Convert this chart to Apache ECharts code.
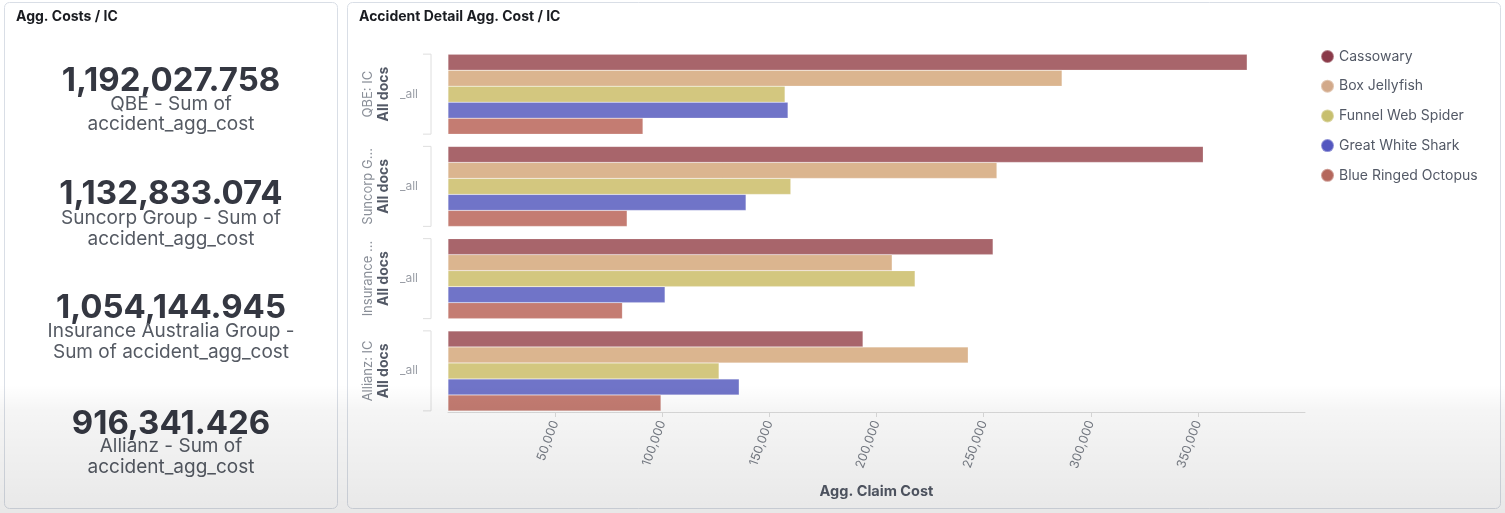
<!DOCTYPE html>
<html>
<head>
<meta charset="utf-8">
<script src="https://cdn.jsdelivr.net/npm/echarts@6/dist/echarts.min.js"></script>
<style>
  html, body { margin: 0; padding: 0; background: #fff; }
  #main { width: 1505px; height: 513px; }
</style>
</head>
<body>
<div id="main"></div>
<script>
// left panel metrics
var metricValues = ['1,192,027.758', '1,132,833.074', '1,054,144.945', '916,341.426'];
var metricLabels = [
	['QBE - Sum of', 'accident_agg_cost'],
	['Suncorp Group - Sum of', 'accident_agg_cost'],
	['Insurance Australia Group -', 'Sum of accident_agg_cost'],
	['Allianz - Sum of', 'accident_agg_cost']
];

// bar chart
var groups = ['QBE: IC', 'Suncorp G...', 'Insurance ...', 'Allianz: IC'];
var animals = ['Cassowary', 'Box Jellyfish', 'Funnel Web Spider', 'Great White Shark', 'Blue Ringed Octopus'];
var cassowary = [373000, 352500, 254400, 193700];
var boxJellyfish = [286600, 256200, 207300, 242800];
var funnelWeb = [157300, 160000, 218000, 126500];
var greatWhite = [158700, 139100, 101300, 135900];
var blueRinged = [91000, 83600, 81400, 99400];
var xTicks = { min: 0, max: 400000, interval: 50000 };

var barColors = ['#a8656b', '#dbb58f', '#d3c77f', '#7074c8', '#c47c72'];
var legendColors = ['#8a3a49', '#d2a98a', '#c7bf6f', '#5356bf', '#b4675c'];
var seriesValues = [cassowary, boxJellyfish, funnelWeb, greatWhite, blueRinged];

var FONT = 'Inter, "Noto Sans", sans-serif';

var graphics = [
	// panels
	{ type: 'rect', shape: { x: 4.5, y: 2.5, width: 333, height: 506, r: 5 }, style: { fill: '#fff', stroke: '#d9dee6', lineWidth: 1 }, z: -10 },
	{ type: 'rect', shape: { x: 347.5, y: 2.5, width: 1153, height: 506, r: 5 }, style: { fill: '#fff', stroke: '#d9dee6', lineWidth: 1 }, z: -10 },
	{ type: 'text', x: 16, y: 17, style: { text: 'Agg. Costs / IC', font: 'bold 14px ' + FONT, fill: '#1a1c21', verticalAlign: 'middle' } },
	{ type: 'text', x: 359, y: 17, style: { text: 'Accident Detail Agg. Cost / IC', font: 'bold 14px ' + FONT, fill: '#1a1c21', verticalAlign: 'middle' } }
];

var numY = [81, 194, 308, 424];
var subY = [[104, 124], [218, 239], [331, 352], [446, 467]];
metricValues.forEach(function (v, i) {
	graphics.push({ type: 'text', x: 171, y: numY[i], style: { text: v, font: 'bold 33px ' + FONT, fill: '#343741', align: 'center', verticalAlign: 'middle' } });
	metricLabels[i].forEach(function (t, j) {
		graphics.push({ type: 'text', x: 171, y: subY[i][j], style: { text: t, font: '19px ' + FONT, fill: '#555a63', align: 'center', verticalAlign: 'middle' } });
	});
});

// grey vignette along the bottom of the screenshot
graphics.push({
	type: 'rect', silent: true, z: 100,
	shape: { x: 0, y: 385, width: 1505, height: 128 },
	style: {
		fill: new echarts.graphic.LinearGradient(0, 0, 0, 1, [
			{ offset: 0, color: 'rgba(0,0,0,0)' },
			{ offset: 0.2, color: 'rgba(0,0,0,0.04)' },
			{ offset: 1, color: 'rgba(0,0,0,0.09)' }
		])
	}
});

var series = animals.map(function (name, i) {
	return {
		name: name,
		type: 'bar',
		barWidth: 16,
		barGap: '0%',
		itemStyle: { color: barColors[i], borderColor: 'rgba(255,255,255,0.35)', borderWidth: 0.5 },
		data: seriesValues[i]
	};
});

// brackets next to each group
series.push({
	type: 'custom',
	silent: true,
	data: groups.map(function (g, i) { return [0, i]; }),
	encode: { x: 0, y: 1 },
	renderItem: function (params, api) {
		var c = api.coord([0, api.value(1)]);
		var x = c[0] - 17;
		return {
			type: 'polyline',
			shape: { points: [[x - 8, c[1] - 40], [x, c[1] - 40], [x, c[1] + 40], [x - 8, c[1] + 40]] },
			style: { stroke: '#dedede', lineWidth: 1, fill: null }
		};
	}
});

var option = {
	animation: false,
	textStyle: { fontFamily: FONT },
	graphic: graphics,
	legend: {
		orient: 'vertical',
		left: 1315,
		top: 44,
		icon: 'circle',
		itemWidth: 13,
		itemHeight: 13,
		itemGap: 14.7,
		textStyle: { fontSize: 14, color: '#535966', fontFamily: FONT },
		data: animals.map(function (a, i) { return { name: a, itemStyle: { color: legendColors[i] } }; })
	},
	grid: { left: 448, right: 200, top: 48, height: 369 },
	xAxis: {
		type: 'value',
		min: xTicks.min,
		max: xTicks.max,
		interval: xTicks.interval,
		offset: -5,
		name: 'Agg. Claim Cost',
		nameLocation: 'middle',
		nameGap: 72,
		nameTextStyle: { fontWeight: 'bold', fontSize: 14.5, color: '#535966' },
		axisLine: { show: true, lineStyle: { color: '#dcdcdc' } },
		axisTick: { show: true, length: 5, lineStyle: { color: '#dcdcdc' } },
		splitLine: { show: false },
		axisLabel: {
			rotate: 70,
			margin: 9,
			fontSize: 12.5,
			color: '#7a7f88',
			showMinLabel: false,
			showMaxLabel: false,
			formatter: function (v) { return v.toLocaleString('en-US'); }
		}
	},
	yAxis: [{
		type: 'category',
		inverse: true,
		data: groups,
		axisLine: { show: false },
		axisTick: { show: false },
		axisLabel: { margin: 30, fontSize: 12, color: '#9a9ea6', formatter: function () { return '_all'; } }
	}, {
		type: 'category',
		inverse: true,
		data: groups,
		position: 'left',
		axisLine: { show: false },
		axisTick: { show: false },
		axisLabel: {
			rotate: 90,
			interval: 0,
			hideOverlap: false,
			margin: 57,
			formatter: function (v) { return '{a|' + v + '}\n{b|All docs}'; },
			rich: {
				a: { fontSize: 13, color: '#8a8f98', lineHeight: 15, fontFamily: FONT },
				b: { fontSize: 14, color: '#535966', fontWeight: 'bold', lineHeight: 15, fontFamily: FONT }
			}
		}
	}],
	series: series
};

var chart = echarts.init(document.getElementById('main'));
chart.setOption(option);
</script>
</body>
</html>
